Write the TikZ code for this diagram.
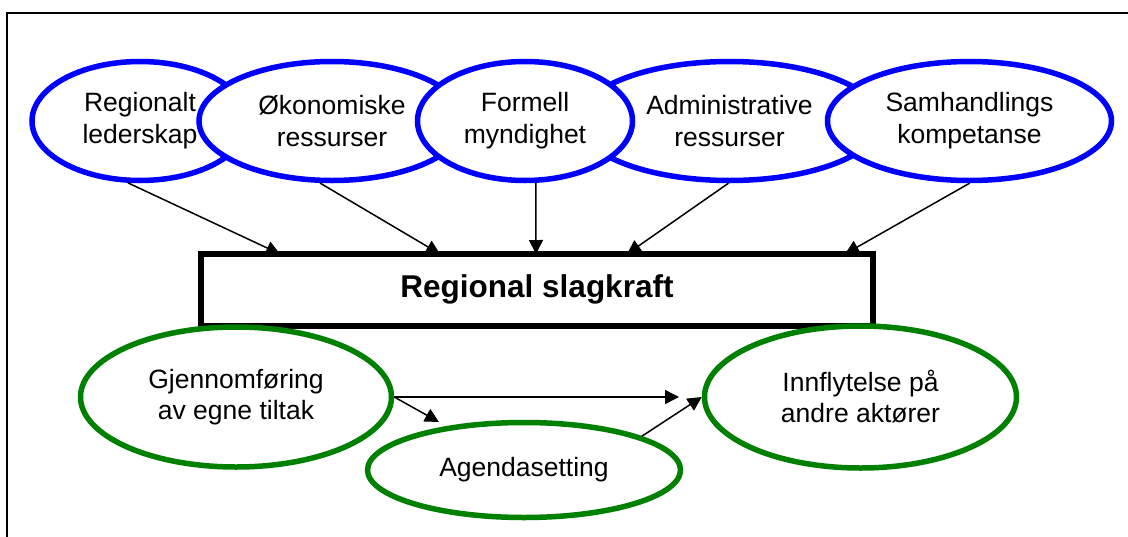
\documentclass[tikz,border=0pt]{standalone}
\usepackage{fontspec}
\setmainfont{Liberation Sans}
\usetikzlibrary{shapes.geometric,arrows.meta}

\begin{document}
\begin{tikzpicture}[x=1pt,y=-1pt,
	res/.style={ellipse,draw=blue,line width=5.5pt,fill=white,inner sep=0pt,minimum height=119pt,align=center,font=\fontsize{26.5}{32}\selectfont},
	eff/.style={ellipse,draw=green!50!black,line width=5.5pt,fill=white,inner sep=0pt,align=center,font=\fontsize{26.5}{31}\selectfont},
	arr/.style={-{Triangle[length=14pt,width=14pt]},line width=1.5pt}]
	\useasboundingbox (0,0) rectangle (1128,536);
	\draw[line width=1.5pt] (7,560) |- (1160,13);
	% resources
	\node[res,minimum width=216pt] (R) at (140,121) {Regionalt\\lederskap};
	\node[res,minimum width=266pt] (O) at (332,121) {Økonomiske\\ressurser};
	\node[res,minimum width=302pt] (Ad) at (729.5,121) {Administrative\\ressurser};
	\node[res,minimum width=215pt] (F) at (525,121) {Formell\\myndighet};
	\node[res,minimum width=284pt] (Sa) at (969.5,121) {Samhandlings\\kompetanse};
	% slagkraft
	\node[draw,fill=white,line width=6pt,outer sep=0pt,inner sep=0pt,minimum width=672pt,minimum height=71.5pt,font=\bfseries\fontsize{31.5}{36}\selectfont] (S) at (537,289.75) {\raisebox{2pt}{Regional slagkraft}};
	\draw[arr] (R.259) -- ([xshift=79pt]S.north west);
	\draw[arr] (O.259) -- ([xshift=239pt]S.north west);
	\draw[arr] (F.280) -- ([xshift=335pt]S.north west);
	\draw[arr] (Ad.269) -- ([xshift=426pt]S.north west);
	\draw[arr] (Sa.270) -- ([xshift=644pt]S.north west);
	% effects
	\node[eff,minimum width=311pt,minimum height=140pt] (G) at (236,397) {Gjennomføring\\av egne tiltak};
	\node[eff,minimum width=313pt,minimum height=95pt] (A) at (524,470) {Agendasetting};
	\node[eff,minimum width=312pt,minimum height=142pt] (I) at (860.5,397) {Innflytelse på\\andre aktører};
	\coordinate (g1) at (679,397);
	\coordinate (g2) at (439,422);
	\draw[arr] (G.east) -- (g1);
	\draw[arr] (G.east) -- (g2);
	\draw[arr] (A.16) -- (I.west);
\end{tikzpicture}
\end{document}
